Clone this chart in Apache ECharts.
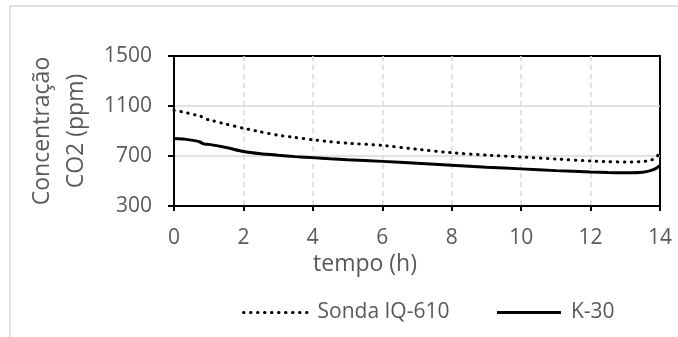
<!DOCTYPE html>
<html>
<head>
<meta charset="utf-8">
<script src="https://cdn.jsdelivr.net/npm/echarts@6/dist/echarts.min.js"></script>
<style>html,body{margin:0;padding:0;background:#fff}#c{width:678px;height:337px}</style>
</head>
<body>
<div id="c"></div>
<script>
var timeH = [0, 0.3, 0.6, 0.75, 0.85, 1, 1.5, 2, 2.5, 3, 3.5, 4, 4.5, 5, 6, 7, 8, 9, 10, 11, 12, 12.5, 13, 13.5, 13.75, 13.9, 14];
var sonda = [1065, 1050, 1030, 1024, 1000, 990, 955, 922, 893, 866, 848, 830, 814, 802, 785, 754, 726, 707, 692, 676, 660, 655, 652, 655, 668, 690, 740];
var k30 = [840, 835, 823, 812, 797, 793, 768, 736, 718, 706, 695, 687, 678, 670, 657, 642, 626, 610, 597, 583, 572, 568, 566, 570, 585, 603, 625];
var xTicks = {min: 0, max: 14, interval: 2};
var yTicks = {min: 300, max: 1500, interval: 400};
var seriesNames = ['Sonda IQ-610', 'K-30'];

function pairs(xs, ys) { return xs.map(function (x, i) { return [x, ys[i]]; }); }

var chart = echarts.init(document.getElementById('c'), null, {renderer: 'canvas'});
var txt = '#595959';
var font = 'Open Sans';
chart.setOption({
  animation: false,
  textStyle: {fontFamily: font},
  graphic: [{
    type: 'rect', shape: {x: 10, y: 6, width: 800, height: 500},
    style: {fill: 'none', stroke: '#d9d9d9', lineWidth: 1.5}, silent: true
  }],
  grid: {left: 174, right: 18, top: 56, bottom: 131, show: true, borderColor: '#000', borderWidth: 2, backgroundColor: 'transparent'},
  legend: {
    data: seriesNames,
    left: 242, top: 302, padding: 0,
    itemWidth: 64, itemHeight: 14, itemGap: 46,
    itemStyle: {opacity: 0},
    lineStyle: {width: 3},
    textStyle: {color: txt, fontSize: 21, fontFamily: font, padding: [0, 0, 0, 5]}
  },
  xAxis: {
    type: 'value', min: xTicks.min, max: xTicks.max, interval: xTicks.interval,
    name: 'tempo (h)', nameLocation: 'middle', nameGap: 47,
    nameTextStyle: {color: txt, fontSize: 23, fontFamily: font, padding: [0, 104, 0, 0]},
    axisLine: {show: true, lineStyle: {color: '#000', width: 2}},
    axisTick: {show: true, inside: false, length: 5, lineStyle: {color: '#000', width: 2}},
    axisLabel: {color: txt, fontSize: 21, fontFamily: font, margin: 22},
    splitLine: {show: true, showMinLine: false, showMaxLine: false, lineStyle: {color: '#d9d9d9', width: 1.5, type: [5, 4]}}
  },
  yAxis: {
    type: 'value', min: yTicks.min, max: yTicks.max, interval: yTicks.interval,
    name: 'Concentração\nCO2 (ppm)', nameLocation: 'middle', nameGap: 78,
    nameTextStyle: {color: txt, fontSize: 23, fontFamily: font, lineHeight: 34},
    axisLine: {show: true, lineStyle: {color: '#000', width: 2}},
    axisTick: {show: true, inside: false, length: 6, lineStyle: {color: '#000', width: 2}},
    axisLabel: {color: txt, fontSize: 21, fontFamily: font, margin: 22, formatter: function (v) { return String(v); }},
    splitLine: {show: true, showMinLine: false, showMaxLine: false, lineStyle: {color: '#d9d9d9', width: 1.5}}
  },
  series: [{
    name: seriesNames[0], type: 'line', data: pairs(timeH, sonda),
    symbol: 'none', smooth: 0.2,
    lineStyle: {color: '#000', width: 3, type: [0.5, 6.5], cap: 'round'},
    itemStyle: {color: '#000'}
  }, {
    name: seriesNames[1], type: 'line', data: pairs(timeH, k30),
    symbol: 'none', smooth: 0.2,
    lineStyle: {color: '#000', width: 3},
    itemStyle: {color: '#000'}
  }]
});
</script>
</body>
</html>
